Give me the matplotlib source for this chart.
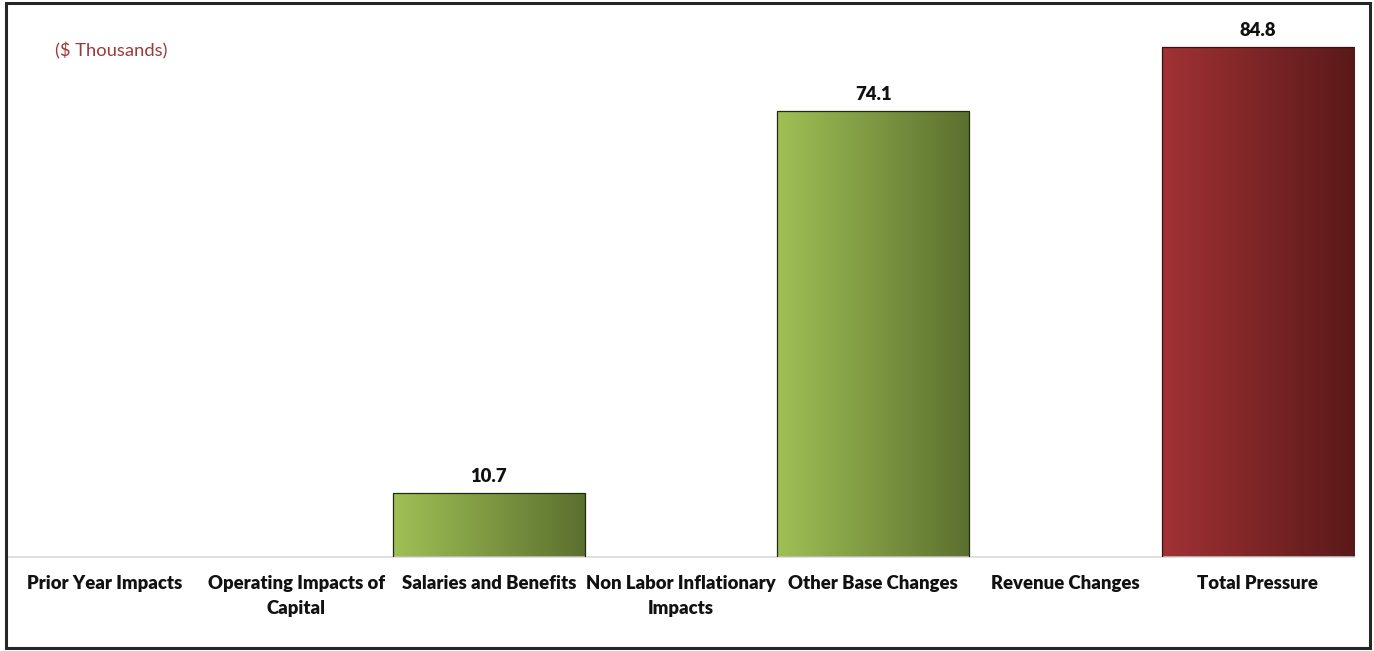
import numpy as np
import matplotlib.pyplot as plt
from matplotlib.colors import LinearSegmentedColormap
from matplotlib.patches import Rectangle

categories = ["Prior Year Impacts", "Operating Impacts of\nCapital",
              "Salaries and Benefits", "Non Labor Inflationary\nImpacts",
              "Other Base Changes", "Revenue Changes", "Total Pressure"]
values = [0, 0, 10.7, 0, 74.1, 0, 84.8]
is_total = [False, False, False, False, False, False, True]

GREEN = LinearSegmentedColormap.from_list("g", ["#a0c055", "#5b702f"])
RED = LinearSegmentedColormap.from_list("r", ["#a13234", "#5a1919"])

W, H = 1374, 651
fig = plt.figure(figsize=(W / 100, H / 100), dpi=100, facecolor="white")
fig.add_artist(Rectangle((6 / W, 3 / H), 1364 / W, 645 / H, transform=fig.transFigure,
                         fill=False, edgecolor="#262626", lw=2.2))

ax = fig.add_axes([8 / W, (H - 557) / H, 1346 / W, 547 / H])
x = np.arange(len(categories))
ax.set_xlim(-0.5, len(categories) - 0.5)
ax.set_ylim(0, 547 / 6.015)

grad = np.linspace(0, 1, 256).reshape(1, -1)
for xi, v, tot in zip(x, values, is_total):
    if v <= 0:
        continue
    cmap = RED if tot else GREEN
    edge = "#3a0f0f" if tot else "#1f2a0e"
    bar = ax.bar(xi, v, width=1.0, color="none", edgecolor=edge, lw=0.9, zorder=3)[0]
    im = ax.imshow(grad, cmap=cmap, aspect="auto", extent=(xi - 0.5, xi + 0.5, 0, v),
                   zorder=2)
    im.set_clip_path(bar)
    ax.text(xi, v + 1.3, f"{v:.1f}", ha="center", va="bottom", fontsize=13.3,
            fontweight="heavy", family="Lato", color="#111111")

ax.set_xticks(x)
ax.set_xticklabels(categories, fontsize=13.3, fontweight="heavy", family="Lato",
                   color="#111111", linespacing=1.55)
ax.tick_params(axis="x", length=0, pad=13)
ax.set_yticks([])
for s in ["top", "right", "left"]:
    ax.spines[s].set_visible(False)
ax.spines["bottom"].set_color("#d9d9d9")
ax.spines["bottom"].set_linewidth(1.2)

fig.text(55 / W, 1 - 51 / H, "($ Thousands)", fontsize=13.2, family="Lato",
         color="#9b3a3a", va="center", ha="left")

plt.savefig("out.png", dpi=100)
plt.close(fig)
